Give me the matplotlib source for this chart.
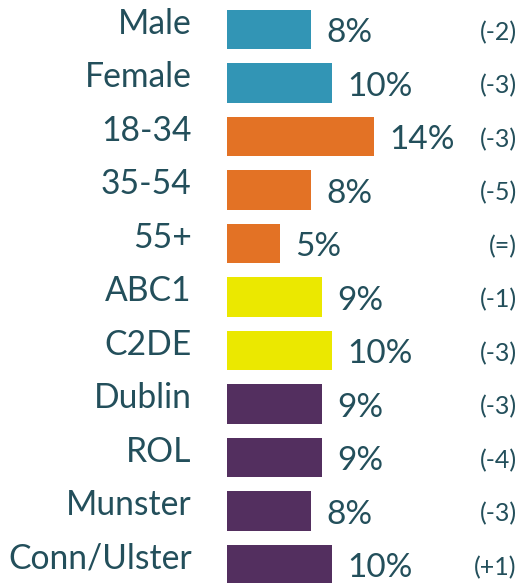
import matplotlib
matplotlib.use("Agg")
import matplotlib.pyplot as plt

plt.rcParams['font.family'] = ['Lato', 'DejaVu Sans']

categories = ["Male", "Female", "18-34", "35-54", "55+", "ABC1", "C2DE",
              "Dublin", "ROL", "Munster", "Conn/Ulster"]
values = [8, 10, 14, 8, 5, 9, 10, 9, 9, 8, 10]
changes = ["(-2)", "(-3)", "(-3)", "(-5)", "(=)", "(-1)", "(-3)",
           "(-3)", "(-4)", "(-3)", "(+1)"]
groups = ["gender", "gender", "age", "age", "age", "class", "class",
          "region", "region", "region", "region"]

group_colours = {
    "gender": "#3295b5",
    "age": "#e37225",
    "class": "#ebe800",
    "region": "#532f5f",
}
text_colour = "#234f5b"

fig = plt.figure(figsize=(5.26, 5.83), dpi=100)
ax = fig.add_axes([227 / 526, 0, 299 / 526, 1])

rows = list(range(len(categories)))
colours = [group_colours[g] for g in groups]

ax.barh(rows, values, height=0.73, color=colours)

for row, cat, val, chg in zip(rows, categories, values, changes):
    ax.text(-3.35, row + 0.08, cat, ha="right", va="baseline",
            fontsize=24.2, color=text_colour, clip_on=False)
    ax.text(val + 1.5, row + 0.24, f"{val}%", ha="left", va="baseline",
            fontsize=24, color=text_colour, clip_on=False)
    ax.text(27.6, row + 0.2, chg, ha="right", va="baseline",
            fontsize=18, color=text_colour, clip_on=False)

ax.set_xlim(0, 299 / 10.5)
ax.set_ylim(10.346, -0.551)
ax.axis("off")

fig.savefig("out.png", dpi=100)
